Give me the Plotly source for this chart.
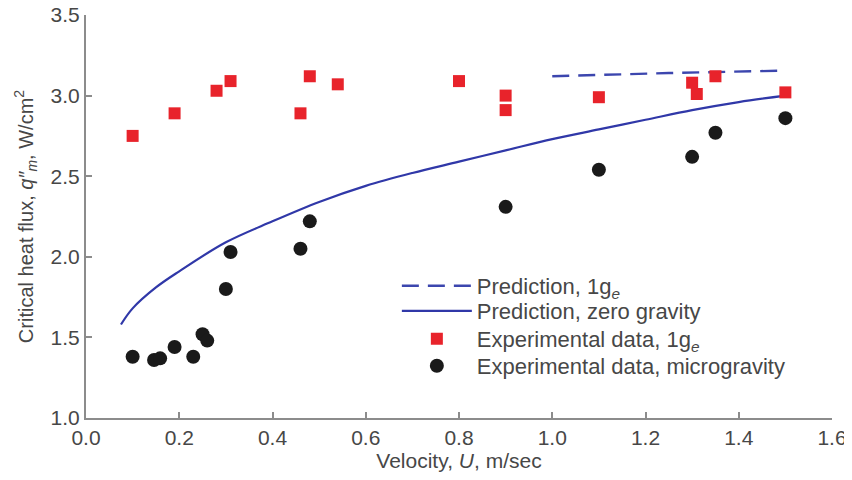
import plotly.graph_objects as go

# Experimental data, 1g_e (red squares)
u_1g = [0.10, 0.19, 0.28, 0.31, 0.46, 0.48, 0.54, 0.80, 0.90, 0.90, 1.10, 1.30, 1.31, 1.35, 1.50]
q_1g = [2.75, 2.89, 3.03, 3.09, 2.89, 3.12, 3.07, 3.09, 3.00, 2.91, 2.99, 3.08, 3.01, 3.12, 3.02]

# Experimental data, microgravity (black circles)
u_mg = [0.10, 0.146, 0.159, 0.19, 0.23, 0.25, 0.26, 0.30, 0.31, 0.46, 0.48, 0.90, 1.10, 1.30, 1.35, 1.50]
q_mg = [1.38, 1.36, 1.37, 1.44, 1.38, 1.52, 1.48, 1.80, 2.03, 2.05, 2.22, 2.31, 2.54, 2.62, 2.77, 2.86]

# Prediction, zero gravity (solid)
u_zg = [0.075, 0.1, 0.15, 0.2, 0.3, 0.4, 0.5, 0.6, 0.7, 0.8, 0.9, 1.0, 1.1, 1.2, 1.3, 1.4, 1.5]
q_zg = [1.58, 1.68, 1.81, 1.91, 2.09, 2.22, 2.34, 2.44, 2.52, 2.59, 2.66, 2.73, 2.79, 2.85, 2.91, 2.96, 3.00]

# Prediction, 1g_e (dashed)
u_pg = [1.0, 1.25, 1.5]
q_pg = [3.12, 3.14, 3.155]

x_ticks = [0.0, 0.2, 0.4, 0.6, 0.8, 1.0, 1.2, 1.4, 1.6]
y_ticks = [1.0, 1.5, 2.0, 2.5, 3.0, 3.5]

FONT = "Liberation Sans, Arial, sans-serif"
TXT = "#474747"

fig = go.Figure()
fig.add_trace(go.Scatter(x=u_pg, y=q_pg, mode="lines", name="Prediction, 1g<sub><i>e</i></sub>",
                         line=dict(color="#3c46ae", width=2.4, dash="17px,9px"), legend="legend"))
fig.add_trace(go.Scatter(x=u_zg, y=q_zg, mode="lines", name="Prediction, zero gravity",
                         line=dict(color="#3038a8", width=2.2), line_shape="spline", legend="legend2"))
fig.add_trace(go.Scatter(x=u_1g, y=q_1g, mode="markers", name="Experimental data, 1g<sub><i>e</i></sub>",
                         marker=dict(symbol="square", size=12, color="#e8232b"), legend="legend3"))
fig.add_trace(go.Scatter(x=u_mg, y=q_mg, mode="markers", name="Experimental data, microgravity",
                         marker=dict(symbol="circle", size=14, color="#1a1a1a"), legend="legend4"))

axis_common = dict(showgrid=False, zeroline=False, showline=True, linecolor="#8c8c8c", linewidth=2,
                   ticks="inside", ticklen=6, tickwidth=1.5, tickcolor="#8c8c8c",
                   tickfont=dict(family=FONT, size=21, color=TXT), mirror=False,
                   ticklabeloverflow="allow", automargin=False)

leg_common = dict(x=0.4167, xanchor="left", yanchor="middle", bgcolor="rgba(0,0,0,0)",
                  font=dict(family=FONT, size=22, color=TXT), itemwidth=70)

fig.update_layout(
    width=844, height=464,
    margin=dict(l=78, r=20, t=7, b=54),
    paper_bgcolor="white", plot_bgcolor="white",
    font=dict(family=FONT, color=TXT),
    xaxis=dict(range=[0, 1.6], tickvals=x_ticks, ticktext=[f"{v:.1f}" for v in x_ticks],
               title=dict(text="Velocity, <i>U</i>, m/sec", font=dict(size=21, color=TXT), standoff=5),
               **axis_common),
    yaxis=dict(range=[1.0, 3.5], tickvals=y_ticks, ticktext=[f"{v:.1f}" for v in y_ticks],
               title=dict(text="Critical heat flux, <i>q″<sub>m</sub></i>, W/cm<sup>2</sup>",
                          font=dict(size=20, color=TXT), standoff=12),
               **axis_common),
    legend=dict(y=0.3275, **leg_common),
    legend2=dict(y=0.2655, **leg_common),
    legend3=dict(y=0.196, **leg_common),
    legend4=dict(y=0.129, **leg_common),
    showlegend=True,
)

fig.write_html("out.html")
